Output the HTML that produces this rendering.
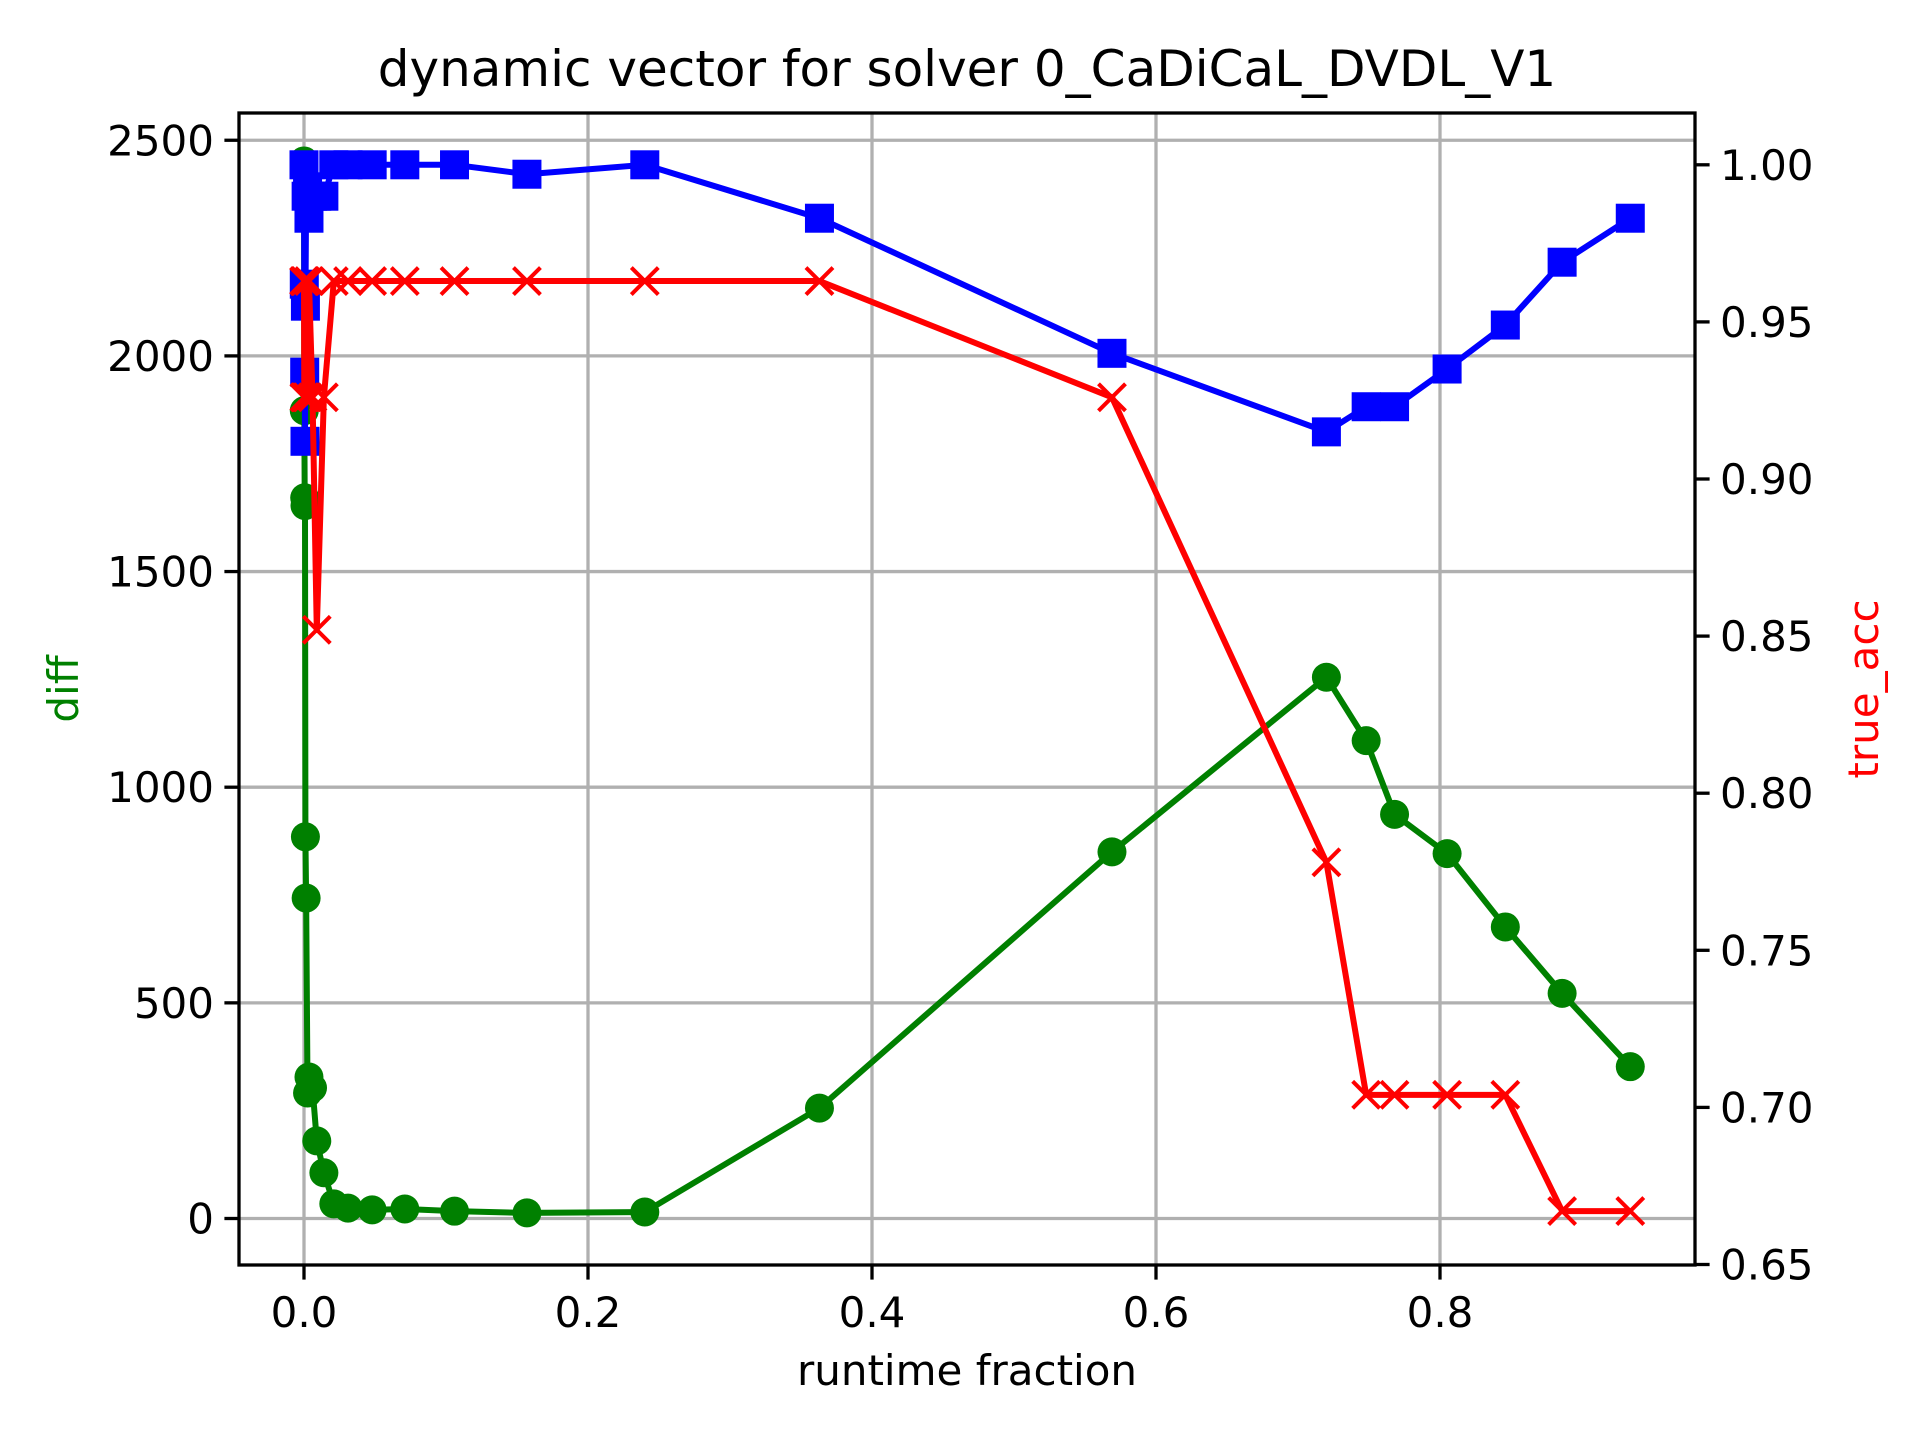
<!DOCTYPE html>
<html><head><meta charset="utf-8"><style>
html,body{margin:0;padding:0;background:#fff;}
svg{display:block;font-family:"DejaVu Sans","Liberation Sans",sans-serif;}
</style></head><body>
<svg id="chart" width="1920" height="1440" viewBox="0 0 1920 1440" xmlns="http://www.w3.org/2000/svg">
<rect width="1920" height="1440" fill="#fff"/>
<g id="grid"></g>
<g id="series"></g>
<g id="axes"></g>
<text x="967" y="86" font-size="50" text-anchor="middle">dynamic vector for solver 0_CaDiCaL_DVDL_V1</text>
<text x="967" y="1385" font-size="42" text-anchor="middle">runtime fraction</text>
<text x="0" y="0" font-size="42" fill="green" text-anchor="middle" transform="translate(78,689) rotate(-90)">diff</text>
<text x="0" y="0" font-size="42" fill="red" text-anchor="middle" transform="translate(1878,689) rotate(-90)">true_acc</text>
</svg>
<script>
const xs=[0.0000,0.0002,0.0005,0.0007,0.0010,0.0015,0.0025,0.0035,0.0060,0.0090,0.0140,0.0210,0.0310,0.0480,0.0710,0.1060,0.1570,0.2400,0.3630,0.5690,0.7200,0.7480,0.7680,0.8050,0.8460,0.8860,0.9340];
const diffVals=[2452,1873,1671,1653,885,743,291,328,303,180,106,34,24,20,22,17,13,15,256,850,1255,1108,937,846,676,522,352];
const accVals=[1.0,0.962,0.934,0.912,0.955,0.99,0.993,0.983,0.99,0.99,0.99,1.0,1.0,1.0,1.0,1.0,0.997,1.0,0.983,0.940,0.915,0.923,0.923,0.935,0.949,0.969,0.983];
const trueAccVals=[0.963,0.926,0.963,0.926,0.963,0.926,0.926,0.963,0.926,0.852,0.926,0.963,0.963,0.963,0.963,0.963,0.963,0.963,0.963,0.926,0.778,0.704,0.704,0.704,0.704,0.667,0.667];
const xTicks=[0,0.2,0.4,0.6,0.8];
const xTickLabels=["0.0","0.2","0.4","0.6","0.8"];
const yLeftTicks=[0,500,1000,1500,2000,2500];
const yRightTicks=[0.65,0.70,0.75,0.80,0.85,0.90,0.95,1.00];
const yRightLabels=["0.65","0.70","0.75","0.80","0.85","0.90","0.95","1.00"];

const L=239,R=1695,T=113,B=1265;
const X=v=>304+v*1420;
const YL=v=>1218.5-v*0.4313;
const YR=v=>1264.5-(v-0.65)/0.05*157.1;
const NS="http://www.w3.org/2000/svg";
function mk(tag,attrs,parent){const e=document.createElementNS(NS,tag);for(const k in attrs)e.setAttribute(k,attrs[k]);parent.appendChild(e);return e;}
const grid=document.getElementById('grid'),series=document.getElementById('series'),axes=document.getElementById('axes');

xTicks.forEach((t,i)=>{
 const g=mk('line',{x1:X(t),x2:X(t),y1:T,y2:B,stroke:'#b0b0b0','stroke-width':3.3},grid);
 
 
 const tk=mk('line',{x1:X(t),x2:X(t),y1:B,y2:B+14.6,stroke:'#000','stroke-width':3.3},axes);
 
 
 const lb=mk('text',{x:X(t),y:B+62,'font-size':42,'text-anchor':'middle'},axes);
 lb.textContent=xTickLabels[i];
 
 
});
yLeftTicks.forEach(t=>{
 const g=mk('line',{x1:L,x2:R,y1:YL(t),y2:YL(t),stroke:'#b0b0b0','stroke-width':3.3},grid);
 
 
 const tk=mk('line',{x1:L-14.6,x2:L,y1:YL(t),y2:YL(t),stroke:'#000','stroke-width':3.3},axes);
 
 
 const lb=mk('text',{x:L-25,y:YL(t)+15,'font-size':42,'text-anchor':'end'},axes);
 lb.textContent=String(t);
 
 
});
yRightTicks.forEach((t,i)=>{
 const tk=mk('line',{x1:R,x2:R+14.6,y1:YR(t),y2:YR(t),stroke:'#000','stroke-width':3.3},axes);
 
 
 const lb=mk('text',{x:R+25,y:YR(t)+15,'font-size':42,'text-anchor':'start'},axes);
 lb.textContent=yRightLabels[i];
 
 
});
const frame=mk('rect',{x:L,y:T,width:R-L,height:B-T,fill:'none',stroke:'#000','stroke-width':3.3},axes);



const gp=mk('polyline',{points:xs.map((x,i)=>X(x)+','+YL(diffVals[i])).join(' '),fill:'none',stroke:'green','stroke-width':6,'stroke-linejoin':'round'},series);


xs.forEach((x,i)=>{
 const c=mk('circle',{cx:X(x),cy:YL(diffVals[i]),r:14.5,fill:'green'},series);
 
 
});
const bp=mk('polyline',{points:xs.map((x,i)=>X(x)+','+YR(accVals[i])).join(' '),fill:'none',stroke:'blue','stroke-width':6,'stroke-linejoin':'round'},series);


xs.forEach((x,i)=>{
 const s=mk('rect',{x:X(x)-14.5,y:YR(accVals[i])-14.5,width:29,height:29,fill:'blue'},series);
 
 
});
const rp=mk('polyline',{points:xs.map((x,i)=>X(x)+','+YR(trueAccVals[i])).join(' '),fill:'none',stroke:'red','stroke-width':6,'stroke-linejoin':'round'},series);


xs.forEach((x,i)=>{
 const cx=X(x),cy=YR(trueAccVals[i]),h=13.5;
 const m=mk('path',{d:`M${cx-h},${cy-h}L${cx+h},${cy+h}M${cx-h},${cy+h}L${cx+h},${cy-h}`,stroke:'red','stroke-width':4,fill:'none'},series);
 
 
});
</script>
</body></html>
